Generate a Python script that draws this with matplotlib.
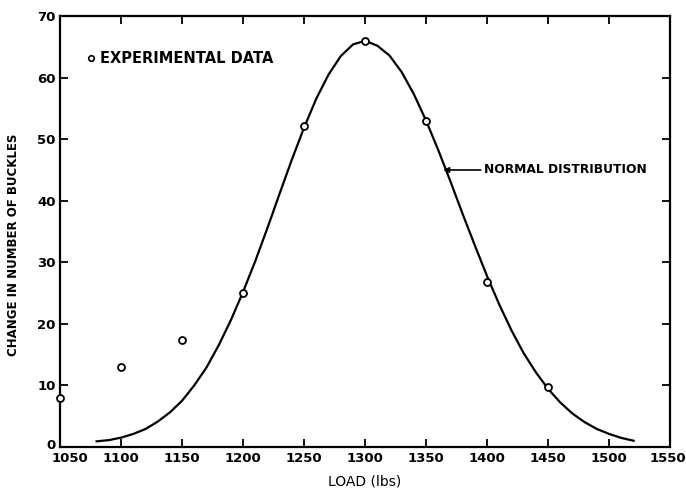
import matplotlib
matplotlib.use('Agg')
import matplotlib.pyplot as plt
from matplotlib.transforms import ScaledTranslation

# experimental points
load_exp = [1050, 1100, 1150, 1200, 1250, 1300, 1350, 1400, 1450]
buckles_exp = [8.0, 13.0, 17.3, 25.0, 52.2, 65.9, 53.0, 26.8, 9.7]

# normal distribution curve, every 10 lbs
load_fit = [1080, 1090, 1100, 1110, 1120, 1130, 1140, 1150, 1160, 1170,
            1180, 1190, 1200, 1210, 1220, 1230, 1240, 1250, 1260, 1270,
            1280, 1290, 1300, 1310, 1320, 1330, 1340, 1350, 1360, 1370,
            1380, 1390, 1400, 1410, 1420, 1430, 1440, 1450, 1460, 1470,
            1480, 1490, 1500, 1510, 1520]
buckles_fit = [0.9, 1.1, 1.5, 2.1, 2.9, 4.1, 5.6, 7.5, 10.0, 12.9,
               16.5, 20.6, 25.2, 30.2, 35.6, 41.2, 46.7, 51.9, 56.6, 60.5,
               63.5, 65.4, 66.0, 65.2, 63.6, 60.9, 57.3, 53.0, 48.2, 43.1,
               37.8, 32.7, 27.7, 23.1, 18.9, 15.2, 12.1, 9.4, 7.2, 5.4,
               4.0, 2.9, 2.1, 1.45, 1.0]

xticks = [1050, 1100, 1150, 1200, 1250, 1300, 1350, 1400, 1450, 1500, 1550]
yticks = [0, 10, 20, 30, 40, 50, 60, 70]

fig = plt.figure(figsize=(6.86, 4.9), dpi=100)
ax = fig.add_axes([0.0875, 0.088, 0.8895, 0.879])

ax.plot(load_fit, buckles_fit, color='black', lw=1.6, clip_on=False,
        solid_joinstyle='round')
ax.plot(load_exp, buckles_exp, 'o', mfc='white', mec='black', mew=1.3,
        ms=5, clip_on=False, zorder=3)

ax.set_xlim(1050, 1550)
ax.set_ylim(0, 70)
ax.set_xticks(xticks)
ax.set_yticks(yticks)
ax.tick_params(direction='in', length=6, width=1.3, top=True, right=True,
               labelsize=9.5)
ax.tick_params(axis='y', pad=3)
for lbl in ax.get_xticklabels() + ax.get_yticklabels():
    lbl.set_fontweight('bold')
# nudge the end labels like the original
xl = ax.get_xticklabels()
xl[0].set_transform(xl[0].get_transform() + ScaledTranslation(0.1, 0, fig.dpi_scale_trans))
xl[-1].set_transform(xl[-1].get_transform() + ScaledTranslation(-0.02, 0, fig.dpi_scale_trans))
yl = ax.get_yticklabels()
yl[0].set_transform(yl[0].get_transform() + ScaledTranslation(0, 0.03, fig.dpi_scale_trans))
for s in ax.spines.values():
    s.set_linewidth(1.6)

ax.set_xlabel('LOAD (lbs)', fontsize=10, labelpad=7)
ax.set_ylabel('CHANGE IN NUMBER OF BUCKLES', fontsize=8.5, fontweight='bold',
              labelpad=12)
ax.yaxis.set_label_coords(-0.065, 0.47)

# legend entry drawn by hand like the original
ax.plot([1075], [63.2], 'o', mfc='white', mec='black', mew=1.2, ms=4)
ax.text(1083, 63.2, 'EXPERIMENTAL DATA', fontsize=10.5, fontweight='bold',
        va='center', ha='left')

ax.annotate('NORMAL DISTRIBUTION', xy=(1364, 45), xytext=(1397, 45),
            fontsize=8.8, fontweight='bold', va='center', ha='left',
            arrowprops=dict(arrowstyle='-|>', color='black', lw=1.2,
                            shrinkA=0, shrinkB=0, mutation_scale=8))

fig.savefig('out.png', dpi=100)
